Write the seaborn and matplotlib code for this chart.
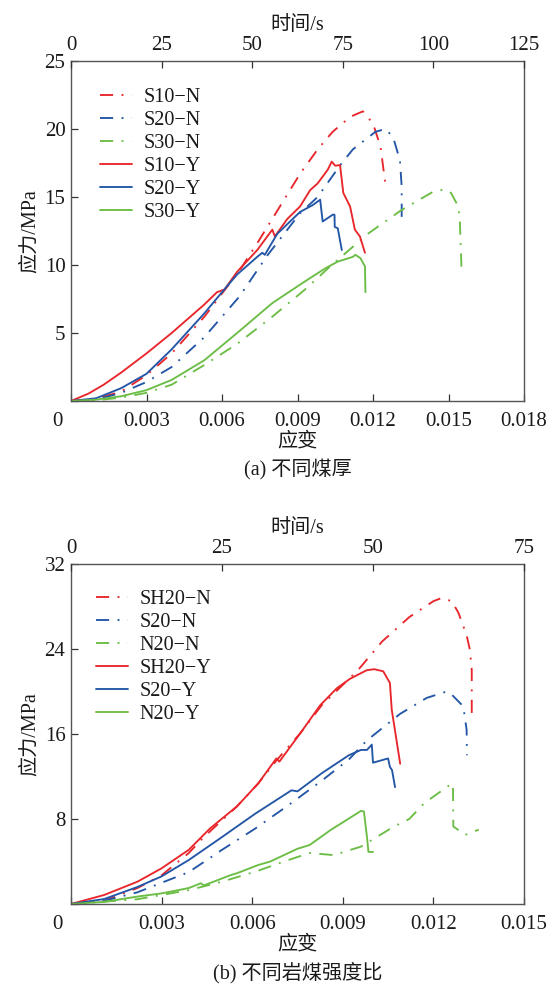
import matplotlib
matplotlib.use("Agg")
import matplotlib.pyplot as plt
import matplotlib.transforms as mtrans
import seaborn as sns

# ---------------- data: panel (a) ----------------
a_names = ["S10\u2212N", "S20\u2212N", "S30\u2212N", "S10\u2212Y", "S20\u2212Y", "S30\u2212Y"]
s10n_x = [0, 0.001, 0.002, 0.003, 0.004, 0.0053, 0.006, 0.0067, 0.0074, 0.0078, 0.0083, 0.0091, 0.0098,
          0.0104, 0.0111, 0.0116, 0.0120, 0.0123, 0.01248]
s10n_y = [0, 0.15, 0.7, 1.9, 3.5, 6.2, 7.9, 9.6, 11.6, 12.8, 14.3, 16.7, 18.5, 19.8, 20.9, 21.3, 20.4, 18.7, 16.1]
s20n_x = [0, 0.001, 0.002, 0.003, 0.004, 0.0053, 0.0067, 0.0078, 0.0091, 0.0098, 0.0107, 0.0112, 0.0121,
          0.0125, 0.0128, 0.01307, 0.01314, 0.01314]
s20n_y = [0, 0.1, 0.6, 1.4, 2.5, 4.7, 7.7, 10.7, 13.8, 15.0, 17.35, 18.5, 19.8, 20.0, 19.4, 17.7, 15.75, 13.5]
s30n_x = [0, 0.001, 0.002, 0.003, 0.004, 0.0053, 0.0066, 0.008, 0.0093, 0.0103, 0.0118, 0.0131, 0.0144,
          0.01486, 0.0151, 0.01539, 0.01545, 0.01552]
s30n_y = [0, 0.05, 0.25, 0.6, 1.2, 2.65, 4.2, 6.2, 8.2, 9.9, 12.3, 14.0, 15.4, 15.56, 15.3, 14.3, 13.3, 9.6]
s10y_x = [0, 0.0007, 0.0013, 0.002, 0.003, 0.004, 0.0053, 0.0058, 0.0061, 0.0066, 0.0074, 0.0080, 0.0081,
          0.0086, 0.0091, 0.0095, 0.0098, 0.0102, 0.01036, 0.0105, 0.01069, 0.01082, 0.01109, 0.01128,
          0.01148, 0.01168]
s10y_y = [0, 0.55, 1.2, 2.1, 3.5, 5.0, 7.1, 8.0, 8.2, 9.5, 11.1, 12.6, 12.1, 13.4, 14.3, 15.5, 16.0, 17.0,
          17.6, 17.3, 17.35, 15.3, 14.3, 12.6, 12.1, 10.9]
s20y_x = [0, 0.001, 0.002, 0.003, 0.004, 0.0053, 0.006, 0.0066, 0.0074, 0.0076, 0.0077, 0.0082, 0.0091,
          0.0096, 0.0099, 0.0100, 0.0104, 0.01047, 0.01048, 0.0106, 0.01076]
s20y_y = [0, 0.2, 0.95, 2.0, 3.8, 6.45, 8.0, 9.3, 10.6, 10.9, 10.75, 12.3, 13.9, 14.4, 14.8, 13.2, 13.7,
          13.7, 12.8, 12.7, 11.1]
s30y_x = [0, 0.001, 0.002, 0.003, 0.004, 0.0053, 0.0066, 0.008, 0.0093, 0.0101, 0.0106, 0.0112, 0.0113,
          0.0115, 0.01168, 0.0117]
s30y_y = [0, 0.1, 0.35, 0.8, 1.55, 3.0, 5.0, 7.2, 8.8, 9.75, 10.25, 10.6, 10.75, 10.5, 9.9, 8.0]

# ---------------- data: panel (b) ----------------
b_names = ["SH20\u2212N", "S20\u2212N", "N20\u2212N", "SH20\u2212Y", "S20\u2212Y", "N20\u2212Y"]
sh20n_x = [0, 0.0011, 0.0022, 0.003, 0.0039, 0.0044, 0.0055, 0.0062, 0.0068, 0.0076, 0.0083, 0.0087, 0.0095,
           0.0103, 0.0112, 0.0120, 0.01227, 0.01261, 0.01283, 0.0131, 0.01321, 0.01327, 0.01327]
sh20n_y = [0, 0.3, 1.5, 2.7, 4.8, 6.3, 9.2, 11.35, 13.5, 16.1, 18.7, 19.8, 22.0, 24.7, 27.0, 28.5, 28.8,
           28.5, 27.4, 25.3, 23.9, 22.0, 17.8]
s20nb_x = [0, 0.0011, 0.0022, 0.003, 0.0039, 0.005, 0.0061, 0.0072, 0.0083, 0.0092, 0.0098, 0.0109,
           0.01178, 0.01244, 0.01261, 0.01299, 0.0131, 0.01311]
s20nb_y = [0, 0.3, 1.1, 2.0, 3.0, 5.1, 7.1, 9.3, 11.6, 13.6, 15.4, 17.9, 19.4, 20.0, 19.7, 18.6, 16.4, 14.0]
n20n_x = [0, 0.0022, 0.003, 0.0039, 0.005, 0.0061, 0.0072, 0.0079, 0.0087, 0.0096, 0.0107, 0.0112, 0.0117,
          0.01262, 0.01265, 0.01266, 0.01305, 0.0135]
n20n_y = [0, 0.45, 0.85, 1.3, 2.1, 3.04, 4.14, 4.8, 4.6, 5.4, 7.3, 8.0, 9.5, 11.36, 10.7, 7.3, 6.5, 7.0]
sh20y_x = [0, 0.0011, 0.0022, 0.003, 0.0039, 0.0046, 0.0055, 0.0062, 0.0068, 0.0069, 0.0076, 0.00825,
           0.0088, 0.00924, 0.00979, 0.01004, 0.01034, 0.01056, 0.01062, 0.0109]
sh20y_y = [0, 0.85, 2.1, 3.36, 5.1, 7.1, 9.2, 11.35, 13.7, 13.4, 16.1, 18.7, 20.3, 21.2, 22.0, 22.1, 21.9,
           20.8, 18.3, 13.2]
s20yb_x = [0, 0.0011, 0.0022, 0.003, 0.0039, 0.005, 0.0061, 0.0073, 0.0075, 0.0083, 0.0092, 0.0096, 0.0098,
           0.00996, 0.0100, 0.0105, 0.01056, 0.01063, 0.01073]
s20yb_y = [0, 0.47, 1.6, 2.6, 4.14, 6.3, 8.5, 10.7, 10.6, 12.3, 14.0, 14.5, 14.5, 15.0, 13.3, 13.7, 12.9,
           12.6, 11.0]
n20y_x = [0, 0.0011, 0.0022, 0.003, 0.0039, 0.0043, 0.0044, 0.0053, 0.0055, 0.0062, 0.0066, 0.0075, 0.0079,
          0.0086, 0.0094, 0.0096, 0.0097, 0.0098, 0.00985, 0.0100]
n20y_y = [0, 0.2, 0.7, 1.0, 1.5, 1.95, 1.75, 2.73, 2.9, 3.67, 4.0, 5.2, 5.55, 6.97, 8.4, 8.76, 8.7, 6.3,
          4.9, 4.9]

# axis ticks
a_xticks = [0, 0.003, 0.006, 0.009, 0.012, 0.015, 0.018]
a_xlabels = ["", "0.003", "0.006", "0.009", "0.012", "0.015", "0.018"]
a_yticks = [0, 5, 10, 15, 20, 25]
a_ylabels = ["", "5", "10", "15", "20", "25"]
a_tticks = [0, 25, 50, 75, 100, 125]
b_xticks = [0, 0.003, 0.006, 0.009, 0.012, 0.015]
b_xlabels = ["", "0.003", "0.006", "0.009", "0.012", "0.015"]
b_yticks = [0, 8, 16, 24, 32]
b_ylabels = ["", "8", "16", "24", "32"]
b_tticks = [0, 25, 50, 75]

RED, BLUE, GREEN = "#e8262b", "#2356a6", "#6bbd45"
DASHDOT = (0, (7, 4.5, 1, 4.5))

sns.set_theme(style="ticks")
plt.rcParams["font.family"] = ["Liberation Serif", "Noto Sans CJK SC"]
plt.rcParams["axes.unicode_minus"] = False
FS_TICK = 15
FS_LEG = 14.5
FS_LAB = 14.5
TXT = "#1a1a1a"

fig = plt.figure(figsize=(5.55, 9.9), dpi=100)
W, H = 555, 990


def make_panel(rect, series, names, xlim, xticks, xlabels, ylim, yticks, ylabels, tlim, tticks, caption,
               leg_anchor):
    ax = fig.add_axes(rect)
    colors = [RED, BLUE, GREEN, RED, BLUE, GREEN]
    styles = [DASHDOT] * 3 + ["-"] * 3
    for (x, y), name, c, ls in zip(series, names, colors, styles):
        sns.lineplot(x=x, y=y, ax=ax, color=c, linestyle=ls, linewidth=1.35, label=name,
                     sort=False, estimator=None)
    ax.set_xlim(*xlim)
    ax.set_ylim(*ylim)
    ax.set_xticks(xticks)
    ax.set_xticklabels(xlabels)
    ax.set_yticks(yticks)
    ax.set_yticklabels(ylabels)
    ax.tick_params(direction="in", length=5, width=0.9, labelsize=FS_TICK, colors="#333333",
                   labelcolor=TXT)
    ax.tick_params(axis="x", pad=8)
    ax.tick_params(axis="y", pad=4)
    for s in ax.spines.values():
        s.set_color("#555555")
        s.set_linewidth(1.0)
    hpx = rect[3] * H
    ax.set_xlabel("应变", fontsize=FS_LAB, color=TXT)
    ax.xaxis.set_label_coords(0.5, -31 / hpx)
    ax.set_ylabel("应力/MPa", fontsize=FS_LAB, color=TXT)
    ax.yaxis.set_label_coords(-31 / (rect[2] * W), 0.5)
    ax.text(0, 0, "0", fontsize=FS_TICK, ha="center", va="top", color=TXT,
            transform=ax.transAxes + mtrans.ScaledTranslation(-14 / 100, -11 / 100, fig.dpi_scale_trans))
    axt = ax.twiny()
    axt.set_xlim(*tlim)
    axt.set_xticks(tticks)
    axt.set_xticklabels([str(t) for t in tticks])
    axt.tick_params(direction="in", length=5, width=0.9, labelsize=FS_TICK, colors="#333333",
                    labelcolor=TXT, pad=4)
    axt.set_xlabel("时间/s", fontsize=FS_LAB, color=TXT)
    axt.xaxis.set_label_coords(0.5, 1 + 31 / hpx)
    for s in axt.spines.values():
        s.set_visible(False)
    leg = ax.legend(loc="upper left", bbox_to_anchor=leg_anchor, frameon=False, fontsize=FS_LEG,
                    handlelength=1.6, handletextpad=0.55, labelspacing=0.19, borderpad=0,
                    borderaxespad=0)
    for t in leg.get_texts():
        t.set_color(TXT)
    fig.text(rect[0] + rect[2] / 2, rect[1] - 69 / H, caption, ha="center", va="center", fontsize=FS_LAB,
             color=TXT)
    return ax


series_a = [(s10n_x, s10n_y), (s20n_x, s20n_y), (s30n_x, s30n_y),
            (s10y_x, s10y_y), (s20y_x, s20y_y), (s30y_x, s30y_y)]
series_b = [(sh20n_x, sh20n_y), (s20nb_x, s20nb_y), (n20n_x, n20n_y),
            (sh20y_x, sh20y_y), (s20yb_x, s20yb_y), (n20y_x, n20y_y)]

make_panel([71 / W, 1 - 401 / H, 453 / W, 340 / H], series_a, a_names, (0, 0.018), a_xticks, a_xlabels,
           (0, 25), a_yticks, a_ylabels, (0, 125), a_tticks, "(a) 不同煤厚", (0.064, 0.92))
make_panel([71 / W, 1 - 904 / H, 453 / W, 340 / H], series_b, b_names, (0, 0.015), b_xticks, b_xlabels,
           (0, 32), b_yticks, b_ylabels, (0, 75), b_tticks, "(b) 不同岩煤强度比", (0.055, 0.923))

fig.savefig("out.png", dpi=100)
